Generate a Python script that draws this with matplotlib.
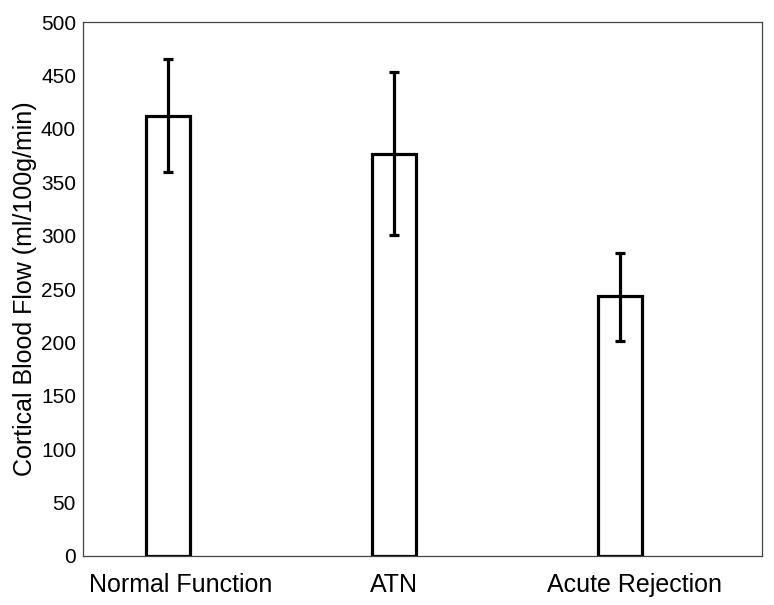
import numpy as np
import matplotlib
matplotlib.use("Agg")
import matplotlib.pyplot as plt

plt.rcParams['font.family'] = ['Liberation Sans', 'DejaVu Sans']

# data
groups = ["Normal Function", "ATN", "Acute Rejection"]
means = [412, 376, 243]
err_upper = [465, 453, 284]
err_lower = [360, 301, 201]

x = np.arange(len(groups))
yerr = [np.array(means) - np.array(err_lower), np.array(err_upper) - np.array(means)]

fig = plt.figure(figsize=(7.74, 6.05), dpi=100)
ax = fig.add_axes([0.1072, 0.081, 0.8773, 0.8826])

ax.bar(x, means, width=0.195, color="white", edgecolor="black", linewidth=2.3)
ax.errorbar(x, means, yerr=yerr, fmt="none", ecolor="black",
            elinewidth=2.3, capsize=3.4, capthick=2.3)

ax.set_xlim(-0.376, 2.628)
ax.set_ylim(0, 500)
ax.set_yticks(np.arange(0, 501, 50))
# labels sit a little off the bar centres in the original
ax.set_xticks([0.056, 1.0, 2.064])
ax.set_xticklabels(groups, fontsize=18)
ax.tick_params(axis="both", length=0)
ax.tick_params(axis="y", labelsize=15, pad=5)
ax.tick_params(axis="x", pad=12)
ax.set_ylabel("Cortical Blood Flow (ml/100g/min)", fontsize=18, labelpad=3)

for s in ax.spines.values():
    s.set_color("#444444")
    s.set_linewidth(0.9)

fig.savefig("out.png", dpi=100)
